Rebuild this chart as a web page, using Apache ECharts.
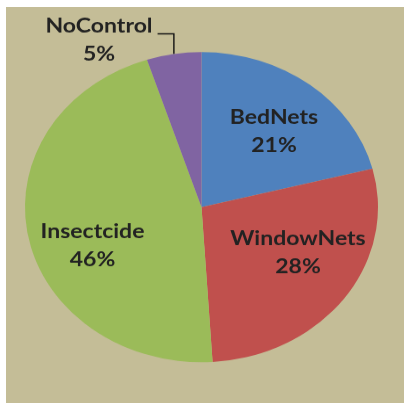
<!DOCTYPE html>
<html>
<head>
<meta charset="utf-8">
<script src="https://cdn.jsdelivr.net/npm/echarts@6/dist/echarts.min.js"></script>
<style>
  html, body { margin: 0; padding: 0; background: #ffffff; width: 404px; height: 405px; overflow: hidden; }
  #panel { position: absolute; left: 6px; top: 7px; width: 398px; height: 396px; background: #c4bd97; }
  /* the pie is drawn round and then flattened vertically into an ellipse */
  #chart { position: absolute; left: 0; top: 0; width: 404px; height: 461px;
           transform: scaleY(0.8785); transform-origin: 0 0; }
</style>
</head>
<body>
<div id="panel"></div>
<div id="chart"></div>
<script>
// Malaria control methods used by households
const categories = ['BedNets', 'WindowNets', 'Insectcide', 'NoControl'];
const shares = [21, 28, 46, 5];
const sliceColors = ['#4f81bd', '#c0504d', '#9bbb59', '#8064a2'];

const CENTER = [201.5, 235.8];
const RADIUS = 176.5;
// where each label block sits, as an offset from the pie centre
const labelOffsets = {
  BedNets: [72.5, -85.8],
  WindowNets: [96.5, 52.2],
  Insectcide: [-109, 44.2],
  NoControl: [-102.5, -190.3]
};

const total = shares.reduce((a, b) => a + b, 0);

// point on the rim at the middle of a slice (start at 12 o'clock, clockwise)
function rimMidpoint(idx) {
  let before = 0;
  for (let i = 0; i < idx; i++) before += shares[i];
  const frac = (before + shares[idx] / 2) / total;
  const ang = (90 - frac * 360) * Math.PI / 180;
  return [CENTER[0] + RADIUS * Math.cos(ang), CENTER[1] - RADIUS * Math.sin(ang)];
}

const pieData = categories.map((name, i) => {
  const item = { name: name, value: shares[i], itemStyle: { color: sliceColors[i] } };
  if (name === 'NoControl') {
    item.label = { position: 'outside' };
    item.labelLine = { show: true };
  }
  return item;
});

const chart = echarts.init(document.getElementById('chart'), null, { renderer: 'canvas' });
chart.setOption({
  backgroundColor: 'transparent',
  animation: false,
  series: [{
    type: 'pie',
    center: CENTER,
    radius: RADIUS,
    startAngle: 90,
    clockwise: true,
    avoidLabelOverlap: false,
    itemStyle: { borderWidth: 0 },
    label: {
      show: true,
      position: 'inside',
      formatter: '{b}\n{d}%',
      fontFamily: 'Lato',
      fontWeight: 'bold',
      fontSize: 23,
      lineHeight: 32,
      color: '#222222',
      align: 'center'
    },
    labelLine: {
      show: false,
      lineStyle: { color: '#111111', width: 1.4 }
    },
    labelLayout: function (p) {
      const name = categories[p.dataIndex];
      const off = labelOffsets[name];
      const x = CENTER[0] + off[0];
      const y = CENTER[1] + off[1];
      const out = { x: x, y: y, align: 'center', verticalAlign: 'middle' };
      if (name === 'NoControl') {
        const tip = rimMidpoint(p.dataIndex);
        const elbowY = y - 7;
        out.labelLinePoints = [
          [x + p.labelRect.width / 2 + 5, elbowY],
          [tip[0], elbowY],
          tip
        ];
      }
      return out;
    },
    data: pieData
  }]
});
</script>
</body>
</html>
